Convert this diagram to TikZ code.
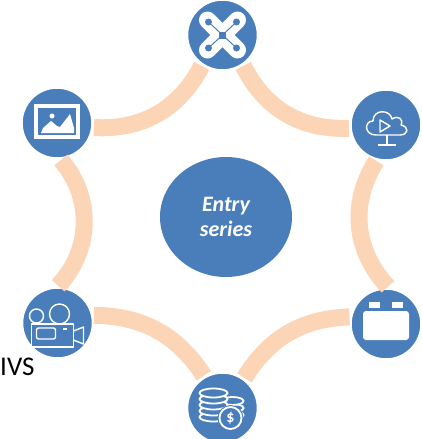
\documentclass[tikz,border=0pt]{standalone}
\usepackage{fontspec}
\setmainfont{Carlito}
\usepackage{tikz}
\usetikzlibrary{shapes.geometric}
\definecolor{ringblue}{HTML}{4A7EBB}
\definecolor{ringpeach}{HTML}{FBD5B5}

\begin{document}
\begin{tikzpicture}[x=1pt,y=-1pt]
	\tikzstyle{hub}=[circle,fill=ringblue,draw=white,line width=3pt,minimum size=71.5pt,inner sep=0pt]
	\tikzstyle{core}=[ellipse,fill=ringblue,minimum width=132pt,minimum height=120pt,inner sep=0pt,text=white,font=\bfseries\itshape\fontsize{22}{25}\selectfont,align=center]
	\tikzstyle{ring}=[ringpeach,line width=17pt]
	\tikzstyle{icon}=[white,line width=1.4pt,line join=round]
	\tikzstyle{disc}=[white,fill=ringblue,line width=1.8pt]
	\useasboundingbox (0,0) rectangle (421,439);
	\node[core](centre) at (226,217) {Entry\\series};
	\node[hub](v1) at (222.5,35) {};
	\node[hub](v2) at (386,125) {};
	\node[hub](v3) at (386,324) {};
	\node[hub](v4) at (222.5,408) {};
	\node[hub](v5) at (57.5,323) {};
	\node[hub](v6) at (57,123) {};
	\node[text=black,font=\fontsize{27}{30}\selectfont,anchor=west,inner sep=0pt](lbl) at (0,367) {IVS};
	\draw[ring](v1.-56) to[bend right=33] (v2.185);
	\draw[ring](v2.255) to[bend right=38] (v3.87);
	\draw[ring](v3.169) to[bend right=28] (v4.54);
	\draw[ring](v4.120) to[bend right=28] (v5.12);
	\draw[ring](v5.89) to[bend right=42] (v6.276);
	\draw[ring](v6.353) to[bend right=33] (v1.236);
	% cross
	\begin{scope}[shift={(v1)}]
		\draw[white,line width=17pt,line cap=round] (-15,-15) -- (15,15);
		\draw[white,line width=17pt,line cap=round] (15,-15) -- (-15,15);
		\draw[ringblue,line width=1pt] (-14,-13) -- (14,13) (14,-13) -- (-14,13);
		\foreach \a/\b in {-14/-13,14/-13,-14/13,14/13}
			\fill[ringblue] (\a,\b) circle (3.5);
		\fill[ringblue] (-3.5,-3.5) rectangle (3.5,3.5);
	\end{scope}
	% cloud
	\begin{scope}[shift={(v2)},yshift=-4pt]
		\draw[icon] (-10,6) .. controls (-22,6) and (-22,-8) .. (-13,-8) .. controls (-13,-20) and (4,-20) .. (6,-10) .. controls (12,-14) and (18,-10) .. (15,-4) .. controls (24,-2) and (22,6) .. (14,6) -- cycle;
		\draw[icon] (-6,-9) -- (4,-3) -- (-6,3) -- cycle;
		\draw[icon] (1,6) -- (1,16) (-8,16) -- (10,16);
	\end{scope}
	% battery
	\begin{scope}[shift={(v3)}]
		\fill[white,rounded corners=3pt] (-23,-13) rectangle (23,16);
		\fill[white] (-17,-22) rectangle (-6,-16);
		\fill[white] (6,-22) rectangle (17,-16);
	\end{scope}
	% coins
	\begin{scope}[shift={(v4)}]
		\foreach \y in {7,0,-7}
			\draw[disc] (10,\y) ellipse (11 and 4);
		\foreach \y in {9,3,-3,-9,-15}
			\draw[disc] (-9,\y) ellipse (14 and 4.5);
		\fill[ringblue] (8,10) circle (13);
		\draw[white,line width=1.8pt] (8,10) circle (11);
		\node[text=white,font=\bfseries\fontsize{16}{16}\selectfont,inner sep=0pt](coin) at (8,10) {\$};
	\end{scope}
	% camera
	\begin{scope}[shift={(v5)}]
		\draw[icon] (-26,1) rectangle (16,24);
		\draw[icon,rounded corners=2pt] (-21,5) rectangle (-2,16);
		\draw[icon] (16,8) -- (26,4) -- (26,21) -- (16,17);
		\draw[icon] (-21,-7) circle (7);
		\draw[icon] (2,-9) circle (10);
		\fill[white] (5,5) rectangle (9,7);
	\end{scope}
	% picture
	\begin{scope}[shift={(v6)}]
		\draw[white,line width=4pt] (-21,-17) rectangle (21,14);
		\fill[white] (-16,10) -- (-14,5) -- (-6,-2) -- (0,3) -- (3,4) -- (13,-9) -- (17,5) -- (17,10) -- cycle;
		\fill[white] (-5,-7) circle (2.5);
	\end{scope}
\end{tikzpicture}
\end{document}
